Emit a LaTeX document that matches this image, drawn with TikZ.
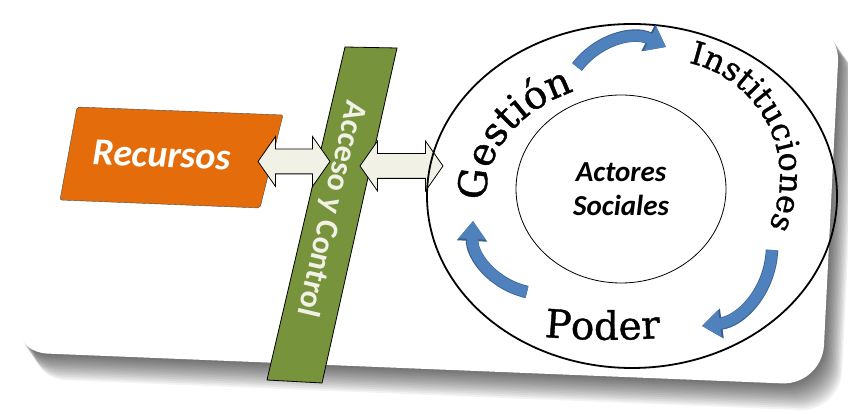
\documentclass[tikz,border=0pt]{standalone}
\usepackage{fontspec}
\setmainfont{DejaVu Serif}
\newfontfamily\carlito{Carlito}
\newfontfamily\ringserif[FakeBold=1]{DejaVu Serif}
\usetikzlibrary{positioning,shapes.geometric,shapes.arrows,arrows.meta,decorations.text}

\definecolor{recorange}{RGB}{228,108,10}
\definecolor{accgreen}{RGB}{119,147,60}
\definecolor{cream}{RGB}{242,241,230}
\definecolor{cycblue}{RGB}{79,129,189}
\definecolor{cycline}{RGB}{56,93,138}

\newcommand\recfont{\carlito\bfseries\itshape\fontsize{38}{38}\selectfont}
\newcommand\accfont{\carlito\bfseries\fontsize{32}{32}\selectfont}
\newcommand\actfont{\carlito\bfseries\itshape\fontsize{29}{34}\selectfont}
\newcommand\gestfont{\ringserif\fontsize{39}{39}\selectfont}
\newcommand\instfont{\ringserif\fontsize{32}{32}\selectfont}
\newcommand\poderfont{\ringserif\fontsize{39}{39}\selectfont}

\begin{document}
\begin{tikzpicture}[
    x=1pt,y=1pt,
    card/.style={rounded corners=40pt},
    swaparrow/.style={double arrow,draw,fill=cream,line width=0.8pt,
      inner xsep=0pt,inner ysep=12pt,double arrow head extend=12.5pt,
      double arrow tip angle=110,minimum height=#1},
    cycarrow/.style={line width=11pt,cycblue,-{Triangle[width=26pt,length=18pt]},
      preaction={draw=cycline,line width=12.5pt,-{Triangle[width=29pt,length=20pt]}}},
    ringword/.style={decorate,decoration={text along path,text align=center,text={#1}}}
  ]
  \useasboundingbox (0,0) rectangle (848,414);
  \fill[white] (0,0) rectangle (848,414);

  % card and its shadow
  \foreach \s in {1,...,14}
    \fill[black,opacity=0.05,card,shift={(\s*1.3,-\s*1.9)}]
      (95,400) -- (840,392) -- (822,29) -- (8,62) -- cycle;
  \fill[white,card] (95,400) -- (840,392) -- (822,29) -- (8,62) -- cycle;

  % resources and access bar
  \filldraw[fill=recorange,draw=black!70,rounded corners=2pt]
    (77,307) -- (283,299) -- (260,206) -- (60,214) -- cycle;
  \node (rec) [white,font=\recfont,rotate=-2] at (162,259) {Recursos};

  \filldraw[fill=accgreen,draw=black,line width=0.8pt]
    (345,367) -- (397,366) -- (322,31) -- (267,34) -- cycle;
  \node (acc) [cream,font=\accfont,rotate=-103.2] at (331,205) {Acceso y Control};

  \node (swapL) [swaparrow=72pt] at (294,252.5) {};
  \node (swapR) [swaparrow=83pt] at (401.5,248) {};

  % cycle
  \node (ring) [ellipse,draw,line width=1.8pt,minimum width=410pt,minimum height=344pt] at (632,218) {};
  \node (actores) [ellipse,draw,line width=0.8pt,minimum width=210pt,minimum height=188pt,
    align=center,font=\actfont] at (621,225) {Actores\\Sociales};

  \path[ringword={|\gestfont|Gestión}] (632,218) ++(205:146 and 114)
    arc[start angle=205,end angle=95,x radius=146,y radius=114];
  \path[ringword={|\instfont|Instituciones}] (663,237) ++(100:117)
    arc[start angle=100,end angle=-48,radius=117];
  \path[ringword={|\poderfont|Poder}] (505,82) .. controls (570,72) and (635,72) .. (700,80);

  \draw[cycarrow] (577,347) to[bend left=40] (666,367);
  \draw[cycarrow] (772,164) to[bend left=40] (702,88);
  \draw[cycarrow] (527,122) to[bend left=40] (473,193);
\end{tikzpicture}
\end{document}
